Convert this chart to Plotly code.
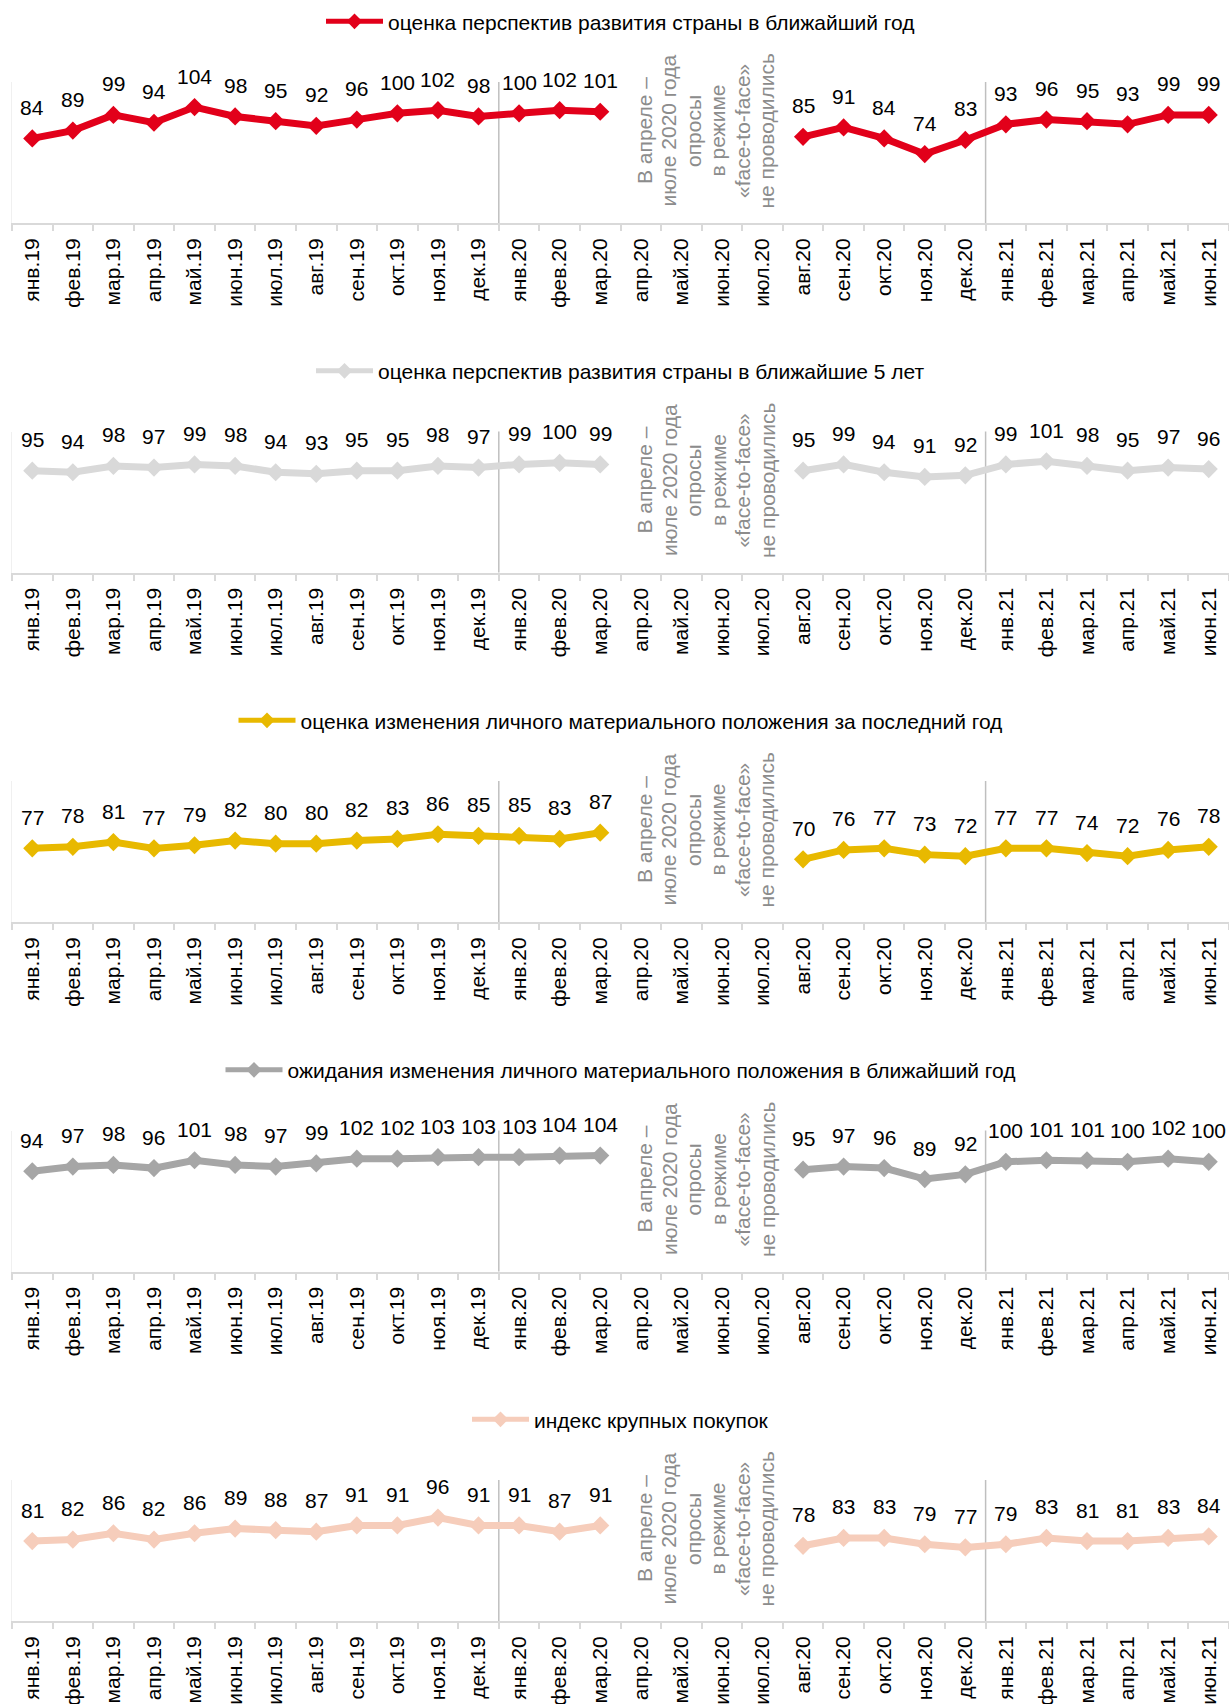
import plotly.graph_objects as go

months = ["янв.19", "фев.19", "мар.19", "апр.19", "май.19", "июн.19", "июл.19", "авг.19",
          "сен.19", "окт.19", "ноя.19", "дек.19", "янв.20", "фев.20", "мар.20", "апр.20",
          "май.20", "июн.20", "июл.20", "авг.20", "сен.20", "окт.20", "ноя.20", "дек.20",
          "янв.21", "фев.21", "мар.21", "апр.21", "май.21", "июн.21"]

N = None
country_1y = [84, 89, 99, 94, 104, 98, 95, 92, 96, 100, 102, 98, 100, 102, 101, N, N, N, N,
              85, 91, 84, 74, 83, 93, 96, 95, 93, 99, 99]
country_5y = [95, 94, 98, 97, 99, 98, 94, 93, 95, 95, 98, 97, 99, 100, 99, N, N, N, N,
              95, 99, 94, 91, 92, 99, 101, 98, 95, 97, 96]
personal_past = [77, 78, 81, 77, 79, 82, 80, 80, 82, 83, 86, 85, 85, 83, 87, N, N, N, N,
                 70, 76, 77, 73, 72, 77, 77, 74, 72, 76, 78]
personal_next = [94, 97, 98, 96, 101, 98, 97, 99, 102, 102, 103, 103, 103, 104, 104, N, N, N, N,
                 95, 97, 96, 89, 92, 100, 101, 101, 100, 102, 100]
big_purchases = [81, 82, 86, 82, 86, 89, 88, 87, 91, 91, 96, 91, 91, 87, 91, N, N, N, N,
                 78, 83, 83, 79, 77, 79, 83, 81, 81, 83, 84]

series_names = [
    "оценка перспектив развития страны в ближайший год",
    "оценка перспектив развития страны в ближайшие 5 лет",
    "оценка изменения личного материального положения за последний год",
    "ожидания изменения личного материального положения в ближайший год",
    "индекс крупных покупок",
]
series_values = [country_1y, country_5y, personal_past, personal_next, big_purchases]
series_colors = ["#E2001A", "#D9D9D9", "#E8B900", "#A6A6A6", "#F6CDBB"]

gap_note_lines = ["В апреле –", "июле 2020 года", "опросы", "в режиме",
                  "«face-to-face»", "не проводились"]
separators = [11.5, 23.5]   # between дек.19/янв.20 and дек.20/янв.21
note_x = 16.6
note_y = 89

W, H = 1229, 1704
PERIOD = 349.5
FONT = "Arial, 'Liberation Sans', sans-serif"

fig = go.Figure()
layout = dict(
    width=W, height=H,
    margin=dict(l=12, r=0, t=0, b=0, pad=0),
    paper_bgcolor="white", plot_bgcolor="white",
    font=dict(family=FONT, color="#000000", size=21),
    template="none", showlegend=True,
    annotations=[], shapes=[],
)

for k in range(5):
    idx = k + 1
    sfx = "" if idx == 1 else str(idx)
    xa, ya = f"x{sfx}", f"y{sfx}"
    leg = "legend" if idx == 1 else f"legend{idx}"
    top_px = 82 + PERIOD * k
    bot_px = 223 + PERIOD * k
    leg_px = 21.7 + PERIOD * k
    color = series_colors[k]
    vals = series_values[k]

    fig.add_trace(go.Scatter(
        x=months, y=vals, mode="lines+markers", name=series_names[k],
        line=dict(color=color, width=7),
        marker=dict(symbol="diamond", size=14, color=color),
        connectgaps=False, xaxis=xa, yaxis=ya, legend=leg, showlegend=True,
        hoverinfo="x+y",
    ))

    layout[f"xaxis{sfx}"] = dict(
        type="category", categoryorder="array", categoryarray=months,
        range=[-0.5, len(months) - 0.5], domain=[0, 1], anchor=ya,
        showline=True, linecolor="#D9D9D9", linewidth=2,
        ticks="outside", tickson="boundaries", ticklen=6, tickcolor="#D9D9D9", tickwidth=1.5,
        tickangle=-90, tickfont=dict(size=21, color="#000000", family=FONT),
        ticklabelstandoff=5,
        showgrid=False, zeroline=False, automargin=False, fixedrange=True,
    )
    layout[f"yaxis{sfx}"] = dict(
        range=[30, 120], domain=[1 - bot_px / H, 1 - top_px / H], anchor=xa,
        showticklabels=False, showgrid=False, zeroline=False,
        showline=True, linecolor="#F0F0F0", linewidth=1, ticks="",
        automargin=False, fixedrange=True,
    )
    layout[leg] = dict(
        x=0.5, xanchor="center", y=1 - leg_px / H, yanchor="middle",
        orientation="h", font=dict(size=21, color="#000000", family=FONT),
        bgcolor="rgba(0,0,0,0)", itemwidth=57, itemsizing="constant",
        itemclick=False, itemdoubleclick=False,
    )

    for m, v in zip(months, vals):
        if v is None:
            continue
        layout["annotations"].append(dict(
            x=m, y=v, xref=xa, yref=ya, text=str(v), showarrow=False,
            yshift=31, font=dict(size=21, color="#000000", family=FONT),
        ))
    nl = len(gap_note_lines)
    for i, line in enumerate(gap_note_lines):
        layout["annotations"].append(dict(
            x=note_x, y=note_y, xref=xa, yref=ya, text=line, showarrow=False,
            xshift=(i - (nl - 1) / 2) * 24.5,
            textangle=-90, align="center",
            font=dict(size=21, color="#8C8C8C", family=FONT),
        ))
    for sx in separators:
        layout["shapes"].append(dict(
            type="line", xref=xa, yref=f"{ya} domain", x0=sx, x1=sx, y0=0, y1=1,
            line=dict(color="#BFBFBF", width=1.5), layer="below",
        ))

fig.update_layout(**layout)
fig.write_html(
    "out.html",
    config={"displayModeBar": False},
    post_script="document.body.style.margin='0';document.body.style.overflow='hidden';",
)
